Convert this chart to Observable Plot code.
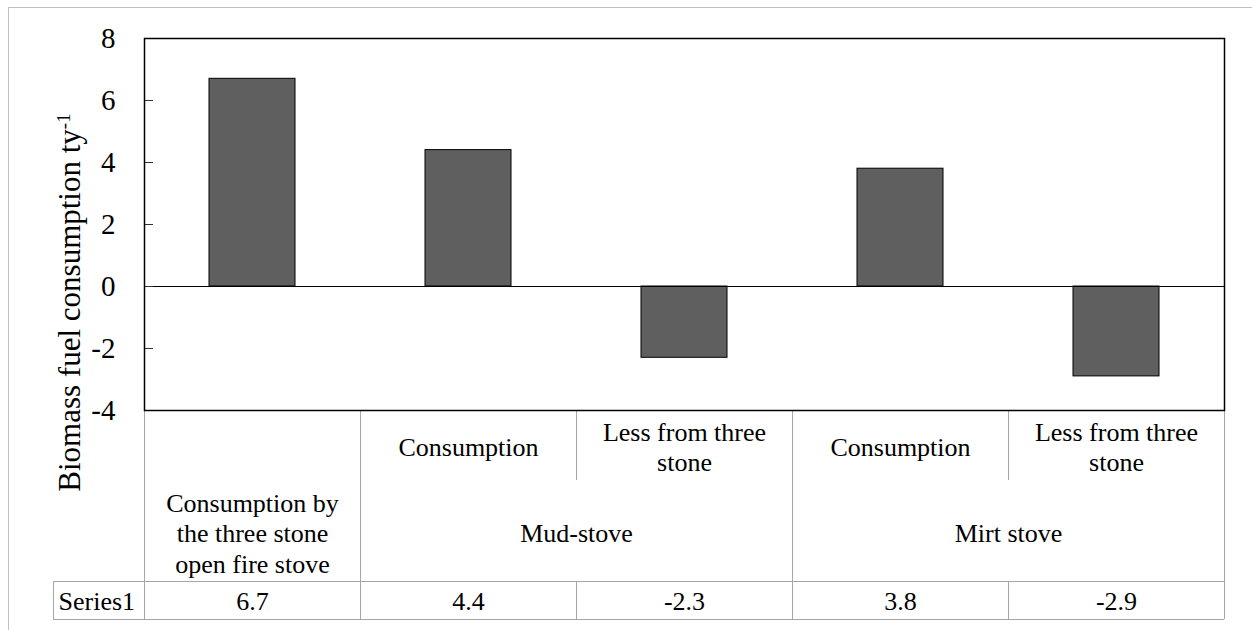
<!DOCTYPE html>
<html><head><meta charset="utf-8">
<script src="https://cdn.jsdelivr.net/npm/d3@7"></script>
<script src="https://cdn.jsdelivr.net/npm/@observablehq/plot@0.6"></script>
<style>html,body{margin:0;padding:0;background:#fff}</style>
</head><body><div id="chart"></div>
<script>
// ---- data ----
const groups = ["Consumption by\nthe three stone\nopen fire stove", "Mud-stove", "Mud-stove", "Mirt stove", "Mirt stove"];
const subLabels = ["", "Consumption", "Less from three\nstone", "Consumption", "Less from three\nstone"];
const values = [6.7, 4.4, -2.3, 3.8, -2.9];
const seriesName = "Series1";
const yTicks = [-4, -2, 0, 2, 4, 6, 8];
const yTitle = "Biomass fuel consumption ty";
const yTitleSup = "-1";

// ---- layout ----
const W = 1252, H = 630;
const mL = 144, mR = 28, mT = 38, mB = 220;
const n = values.length;
const step = (W - mL - mR) / n;
const plotH = H - mT - mB;

const keys = values.map((_, i) => String(i));
const rows = values.map((v, i) => ({key: keys[i], group: groups[i], sub: subLabels[i], value: v}));

// group spans
const spans = [];
groups.forEach((g, i) => {
  const last = spans[spans.length - 1];
  if (last && last.group === g) last.span++;
  else spans.push({group: g, key: keys[i], span: 1});
});

const lineColor = "#a6a6a6";
const tableFont = 26;
const yMin = d3.min(yTicks), yMax = d3.max(yTicks);

const fullV = spans.map(s => s.key);
const innerV = rows.filter((r, i) => i > 0 && groups[i] === groups[i - 1]).map(r => r.key);

const rowSubCenter = 36;
const rowSubBottom = 70;
const rowGroupCenter = 122;
const rowSeriesTop = 171;
const rowSeriesBottom = 209;

const txt = {fontSize: tableFont, lineHeight: 1.17, lineAnchor: "middle", fill: "black"};

const chart = Plot.plot({
  width: W, height: H,
  marginLeft: mL, marginRight: mR, marginTop: mT, marginBottom: mB,
  style: {fontFamily: "'Liberation Serif', 'Times New Roman', serif", background: "white", color: "black", overflow: "visible"},
  x: {type: "band", domain: keys, paddingInner: 0.6, paddingOuter: 0.3, axis: null},
  y: {domain: [yMin, yMax], axis: null},
  marks: [
    // outer light border (top and left)
    Plot.ruleY([yMax], {dy: -(mT - 7), insetLeft: -(mL - 8), insetRight: -mR, stroke: "#c0c0c0", strokeWidth: 1}),
    Plot.ruleX([keys[0]], {dx: -(step / 2) - (mL - 8), insetTop: -(mT - 7), insetBottom: -mB, stroke: "#c0c0c0", strokeWidth: 1}),

    // bars
    Plot.barY(rows, {x: "key", y: "value", fill: "#5f5f5f", stroke: "black", strokeWidth: 1}),
    Plot.ruleY([0], {stroke: "black", strokeWidth: 1}),

    // y ticks (inward) and labels
    Plot.tickY(yTicks, {insetRight: (W - mL - mR) - 9, stroke: "#333", strokeWidth: 1}),
    Plot.axisY({ticks: yTicks, tickSize: 0, tickPadding: 29, tickFormat: d => String(d), fontSize: 29, label: null, anchor: "left"}),

    // y title
    Plot.text([yTitle + yTitleSup], {frameAnchor: "left", textAnchor: "middle", lineAnchor: "middle", dx: -74, dy: 78, rotate: -90, fontSize: 31, fill: "black"}),

    // ---- data table ----
    Plot.ruleX(fullV, {dx: -step / 2, insetTop: plotH, insetBottom: -rowSeriesBottom, stroke: lineColor}),
    Plot.ruleX([keys[n - 1]], {dx: step / 2, insetTop: plotH, insetBottom: -rowSeriesBottom, stroke: lineColor}),
    Plot.ruleX(innerV, {dx: -step / 2, insetTop: plotH, insetBottom: -rowSubBottom, stroke: lineColor}),
    Plot.ruleX(innerV, {dx: -step / 2, insetTop: plotH + rowSeriesTop, insetBottom: -rowSeriesBottom, stroke: lineColor}),
    Plot.ruleX([keys[0]], {dx: -step / 2 - 91, insetTop: plotH + rowSeriesTop, insetBottom: -rowSeriesBottom, stroke: lineColor}),
    Plot.ruleY([yMin], {dy: rowSeriesTop, insetLeft: -91, stroke: lineColor}),
    Plot.ruleY([yMin], {dy: rowSeriesBottom, insetLeft: -91, stroke: lineColor}),

    // sub labels
    Plot.text(rows.filter(r => r.sub), {x: "key", text: "sub", frameAnchor: "bottom", dy: rowSubCenter, ...txt}),
    // group labels spanning 1 column
    Plot.text(spans.filter(s => s.span === 1), {x: "key", text: "group", frameAnchor: "bottom", dy: rowGroupCenter, ...txt}),
    // group labels spanning 2 columns
    Plot.text(spans.filter(s => s.span === 2), {x: "key", text: "group", frameAnchor: "bottom", dx: step / 2, dy: rowGroupCenter, ...txt}),
    // series name and values
    Plot.text([seriesName], {frameAnchor: "bottom-left", dx: -86, dy: (rowSeriesTop + rowSeriesBottom) / 2, textAnchor: "start", ...txt}),
    Plot.text(rows, {x: "key", text: d => String(d.value), frameAnchor: "bottom", dy: (rowSeriesTop + rowSeriesBottom) / 2, ...txt}),

    // plot frame
    Plot.frame({stroke: "black", strokeWidth: 1.5})
  ]
});

// superscript on the y title
d3.select(chart).selectAll("text").each(function() {
  if (this.textContent === yTitle + yTitleSup) {
    const t = d3.select(this);
    t.text(yTitle);
    t.append("tspan").attr("font-size", 19).attr("dy", "-0.55em").text(yTitleSup);
  }
});

document.getElementById("chart").appendChild(chart);
</script>
</body></html>
